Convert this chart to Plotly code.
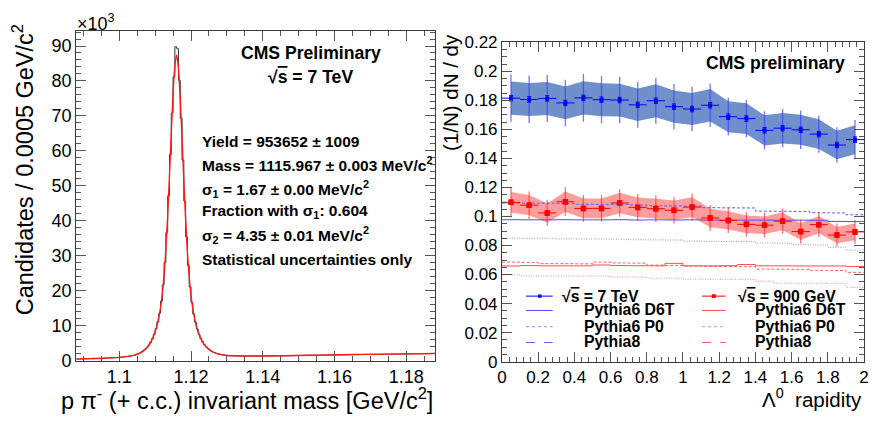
import plotly.graph_objects as go

W, H = 874, 427

# ---------------- Left panel data (counts in units of 10^3 per 0.0005 GeV/c^2 bin) ----------------
mass_lo = 1.088
mass_bin_w = 0.0005
hist_k = [
    0.47, 0.49, 0.50, 0.51, 0.52, 0.54, 0.55, 0.56, 0.57, 0.59,
    0.60, 0.62, 0.64, 0.65, 0.67, 0.69, 0.71, 0.73, 0.75, 0.78,
    0.80, 0.84, 0.87, 0.90, 0.94, 0.99, 1.05, 1.10, 1.17, 1.26,
    1.36, 1.46, 1.59, 1.76, 1.96, 2.18, 2.47, 2.84, 3.26, 3.77,
    4.42, 5.24, 6.26, 7.53, 9.11, 11.06, 13.57, 16.98, 21.68, 28.09,
    36.60, 47.11, 58.91, 70.82, 81.2, 89.8, 89.3, 80.2, 69.36, 57.37,
    45.67, 35.38, 27.29, 21.10, 16.60, 13.31, 10.97, 9.06, 7.54, 6.31,
    5.33, 4.55, 3.94, 3.46, 3.04, 2.71, 2.45, 2.23, 2.06, 1.91,
    1.79, 1.70, 1.62, 1.55, 1.50, 1.45, 1.42, 1.39, 1.37, 1.36,
    1.34, 1.33, 1.32, 1.32, 1.32, 1.31, 1.31, 1.31, 1.31, 1.32,
    1.32, 1.32, 1.33, 1.33, 1.34, 1.34, 1.35, 1.35, 1.36, 1.36,
    1.37, 1.38, 1.38, 1.39, 1.40, 1.40, 1.41, 1.41, 1.42, 1.43,
    1.43, 1.44, 1.45, 1.46, 1.47, 1.48, 1.49, 1.50, 1.51, 1.52,
    1.53, 1.54, 1.55, 1.56, 1.57, 1.58, 1.59, 1.60, 1.61, 1.62,
    1.63, 1.64, 1.65, 1.66, 1.66, 1.67, 1.67, 1.68, 1.69, 1.69,
    1.70, 1.71, 1.72, 1.72, 1.73, 1.74, 1.75, 1.75, 1.76, 1.77,
    1.78, 1.78, 1.79, 1.80, 1.80, 1.81, 1.82, 1.82, 1.83, 1.83,
    1.84, 1.84, 1.85, 1.86, 1.86, 1.87, 1.87, 1.88, 1.89, 1.89,
    1.90, 1.90, 1.91, 1.92, 1.92, 1.93, 1.94, 1.95, 1.96, 1.96,
    1.97, 1.98, 1.99, 2.00, 2.00, 2.01, 2.02, 2.03, 2.04, 2.05,
]
fit_mass = [1.088, 1.09197, 1.09597, 1.09997, 1.10197, 1.10397, 1.10497, 1.10597, 1.10697, 1.10797,
            1.10897, 1.10947, 1.10997, 1.11047, 1.11097, 1.11147, 1.11197, 1.11247, 1.11297, 1.11347,
            1.11397, 1.11447, 1.11497, 1.11547, 1.11597, 1.11647, 1.11697, 1.11747, 1.11797, 1.11847,
            1.11897, 1.11947, 1.11997, 1.12047, 1.12097, 1.12147, 1.12197, 1.12247, 1.12297, 1.12397,
            1.12497, 1.12597, 1.12697, 1.12797, 1.12997, 1.13197, 1.13597, 1.13997, 1.14597, 1.15597,
            1.16597, 1.17597, 1.188]
fit_k = [0.47, 0.57, 0.70, 0.92, 1.13, 1.51, 1.83, 2.29, 3.01, 4.02,
         5.64, 6.74, 8.15, 9.86, 12.07, 14.87, 18.78, 24.19, 31.50, 40.90,
         52.11, 64.22, 75.53, 83.93, 87.34, 83.95, 75.56, 64.26, 52.17, 40.98,
         31.59, 24.29, 18.90, 15.00, 12.21, 10.01, 8.31, 6.92, 5.82, 4.22,
         3.23, 2.54, 2.09, 1.80, 1.46, 1.38, 1.31, 1.33, 1.41, 1.58,
         1.74, 1.87, 2.05]
left_xticks = [1.10, 1.12, 1.14, 1.16, 1.18]
left_xticklabels = ["1.1", "1.12", "1.14", "1.16", "1.18"]
left_yticks = [0, 10, 20, 30, 40, 50, 60, 70, 80, 90]
left_yticklabels = ["0", "10", "20", "30", "40", "50", "60", "70", "80", "90"]

# ---------------- Right panel data ----------------
rap = [0.05, 0.15, 0.25, 0.35, 0.45, 0.55, 0.65, 0.75, 0.85, 0.95,
       1.05, 1.15, 1.25, 1.35, 1.45, 1.55, 1.65, 1.75, 1.85, 1.95]
rap_halfw = [0.05] * 20
rap_edges = [0.0, 0.1, 0.2, 0.3, 0.4, 0.5, 0.6, 0.7, 0.8, 0.9, 1.0,
             1.1, 1.2, 1.3, 1.4, 1.5, 1.6, 1.7, 1.8, 1.9, 2.0]

y7 = [0.1816, 0.1807, 0.1814, 0.1783, 0.1818, 0.1805, 0.1803, 0.1770, 0.1798, 0.1757,
      0.1741, 0.1767, 0.1688, 0.1675, 0.1594, 0.1609, 0.1598, 0.1568, 0.1493, 0.1530]
stat7 = [0.0019, 0.0019, 0.0019, 0.0019, 0.0019, 0.0019, 0.0019, 0.0019, 0.0019, 0.0019,
         0.0019, 0.0019, 0.0019, 0.0019, 0.0019, 0.0019, 0.0019, 0.0019, 0.0019, 0.0019]
tot7 = [0.0163, 0.0163, 0.0163, 0.0160, 0.0165, 0.0163, 0.0160, 0.0158, 0.0158, 0.0157,
        0.0154, 0.0150, 0.0130, 0.0128, 0.0132, 0.0132, 0.0132, 0.0128, 0.0122, 0.0135]
sys7 = [0.0114, 0.0114, 0.0114, 0.0113, 0.0115, 0.0113, 0.0113, 0.0112, 0.0113, 0.0111,
        0.0110, 0.0112, 0.0107, 0.0106, 0.0104, 0.0105, 0.0104, 0.0102, 0.0098, 0.0100]

y900 = [0.1098, 0.1078, 0.1025, 0.1102, 0.1056, 0.1056, 0.1093, 0.1063, 0.1054, 0.1043,
        0.1065, 0.0990, 0.0973, 0.0946, 0.0940, 0.0968, 0.0896, 0.0944, 0.0872, 0.0894]
stat900 = [0.0016, 0.0016, 0.0016, 0.0016, 0.0016, 0.0016, 0.0016, 0.0016, 0.0016, 0.0016,
           0.0016, 0.0016, 0.0016, 0.0016, 0.0016, 0.0016, 0.0016, 0.0016, 0.0016, 0.0016]
tot900 = [0.0099, 0.0095, 0.0090, 0.0099, 0.0092, 0.0092, 0.0095, 0.0093, 0.0092, 0.0092,
          0.0093, 0.0088, 0.0087, 0.0085, 0.0084, 0.0087, 0.0082, 0.0085, 0.0080, 0.0082]
sys900 = [0.0071, 0.0070, 0.0066, 0.0071, 0.0068, 0.0068, 0.0070, 0.0068, 0.0068, 0.0067,
          0.0068, 0.0064, 0.0063, 0.0061, 0.0060, 0.0062, 0.0058, 0.0060, 0.0056, 0.0057]

d6t_7 = [0.0978, 0.0977, 0.0977, 0.0978, 0.0977, 0.0977, 0.0978, 0.0976, 0.0977, 0.0976,
         0.0977, 0.0976, 0.0975, 0.0975, 0.0975, 0.0974, 0.0975, 0.0974, 0.0966, 0.0965]
p0_7 = [0.0851, 0.0850, 0.0850, 0.0846, 0.0845, 0.0845, 0.0844, 0.0840, 0.0839, 0.0838,
        0.0830, 0.0829, 0.0828, 0.0827, 0.0818, 0.0816, 0.0806, 0.0804, 0.0788, 0.0768]
p8_7 = [0.1093, 0.1093, 0.1092, 0.1090, 0.1085, 0.1084, 0.1084, 0.1080, 0.1074, 0.1073,
        0.1072, 0.1061, 0.1060, 0.1059, 0.1037, 0.1036, 0.1035, 0.1026, 0.1025, 0.1012]
d6t_900 = [0.0659, 0.0662, 0.0660, 0.0660, 0.0660, 0.0666, 0.0662, 0.0661, 0.0660, 0.0677,
           0.0660, 0.0660, 0.0661, 0.0669, 0.0660, 0.0660, 0.0659, 0.0659, 0.0659, 0.0656]
p0_900 = [0.0598, 0.0591, 0.0590, 0.0590, 0.0589, 0.0589, 0.0582, 0.0582, 0.0575, 0.0575,
          0.0568, 0.0567, 0.0567, 0.0566, 0.0554, 0.0541, 0.0540, 0.0540, 0.0539, 0.0512]
p8_900 = [0.0686, 0.0684, 0.0675, 0.0675, 0.0674, 0.0686, 0.0680, 0.0679, 0.0665, 0.0663,
          0.0658, 0.0656, 0.0655, 0.0654, 0.0638, 0.0637, 0.0636, 0.0629, 0.0628, 0.0615]

right_xticks = [0, 0.2, 0.4, 0.6, 0.8, 1.0, 1.2, 1.4, 1.6, 1.8, 2.0]
right_xticklabels = ["0", "0.2", "0.4", "0.6", "0.8", "1", "1.2", "1.4", "1.6", "1.8", "2"]
right_yticks = [0, 0.02, 0.04, 0.06, 0.08, 0.10, 0.12, 0.14, 0.16, 0.18, 0.20, 0.22]
right_yticklabels = ["0", "0.02", "0.04", "0.06", "0.08", "0.1", "0.12", "0.14", "0.16",
                     "0.18", "0.2", "0.22"]

# ---------------- helpers ----------------
def px(x):
    return x / W


def py(y):
    return 1 - y / H


FONT = "Liberation Sans, Arial, Helvetica, sans-serif"
AXCOL = "#3a3a3a"

fig = go.Figure()

# ---- left panel ----
mass_centers = [mass_lo + mass_bin_w * (i + 0.5) for i in range(len(hist_k))]
fig.add_trace(go.Scatter(x=mass_centers, y=hist_k, mode="lines", line=dict(color="#333333", width=1, shape="hvh"),
                         xaxis="x", yaxis="y", showlegend=False, hoverinfo="skip"))
fig.add_trace(go.Scatter(x=fit_mass, y=fit_k, mode="lines", line=dict(color="#ff1a1a", width=1.4, shape="spline"),
                         xaxis="x", yaxis="y", showlegend=False, hoverinfo="skip"))

# ---- right panel ----
def band(yv, ev, color):
    up = [a + b for a, b in zip(yv, ev)]
    lo = [a - b for a, b in zip(yv, ev)]
    fig.add_trace(go.Scatter(x=rap + rap[::-1], y=up + lo[::-1], mode="lines", fill="toself",
                             fillcolor=color, line=dict(width=0), xaxis="x2", yaxis="y2",
                             showlegend=False, hoverinfo="skip"))


band(y7, sys7, "rgba(112,144,204,1)")
band(y900, sys900, "rgba(255,140,140,0.85)")


def mcline(vals, color, dash):
    fig.add_trace(go.Scatter(x=rap_edges, y=vals + [vals[-1]], mode="lines",
                             line=dict(color=color, width=1, dash=dash, shape="hv"),
                             xaxis="x2", yaxis="y2", showlegend=False, hoverinfo="skip"))


mcline(d6t_7, "#4d4dff", "solid")
mcline(p0_7, "#8f8fff", "1px,1.5px")
mcline(p8_7, "#5c5cff", "3px,2px")
mcline(d6t_900, "#ff4d4d", "solid")
mcline(p0_900, "#ff8c8c", "1px,1.5px")
mcline(p8_900, "#ff5c5c", "3px,2px")


def points(yv, stat, tot, col, lightcol, size):
    fig.add_trace(go.Scatter(x=rap, y=yv, mode="markers", marker=dict(size=1, color="rgba(0,0,0,0)"),
                             error_y=dict(type="data", array=tot, color=lightcol, thickness=1.3, width=0),
                             xaxis="x2", yaxis="y2", showlegend=False, hoverinfo="skip"))
    fig.add_trace(go.Scatter(x=rap, y=yv, mode="markers",
                             marker=dict(symbol="square", size=size, color=col, line=dict(width=0)),
                             error_y=dict(type="data", array=stat, color=col, thickness=1, width=2),
                             error_x=dict(type="data", array=rap_halfw, color=col, thickness=1, width=0),
                             xaxis="x2", yaxis="y2", showlegend=False, hoverinfo="skip"))


points(y7, stat7, tot7, "#0000ff", "rgba(60,60,255,0.7)", 4)
points(y900, stat900, tot900, "#ff0000", "rgba(255,40,40,0.65)", 5.5)

# ---- axes ----
def axis_common(**kw):
    d = dict(showline=True, linecolor=AXCOL, linewidth=1, mirror="ticks", ticks="inside",
             tickcolor="#555555", tickwidth=1, showgrid=False, zeroline=False,
             tickfont=dict(family=FONT, color="black"))
    d.update(kw)
    return d


fig.update_layout(
    xaxis=axis_common(domain=[px(72), px(435)], range=[1.088, 1.188], anchor="y",
                      tickmode="array", tickvals=left_xticks, ticktext=left_xticklabels, ticklen=10,
                      minor=dict(ticks="inside", dtick=0.005, tick0=1.1, ticklen=5, tickcolor="#555555", showgrid=False),
                      tickfont=dict(family=FONT, size=18, color="black")),
    yaxis=axis_common(domain=[py(368), py(23)], range=[0, 94.3], anchor="x",
                      tickmode="array", tickvals=left_yticks, ticktext=left_yticklabels, ticklen=10,
                      minor=dict(ticks="inside", dtick=2, tick0=0, ticklen=5, tickcolor="#555555", showgrid=False),
                      tickfont=dict(family=FONT, size=18, color="black")),
    xaxis2=axis_common(domain=[px(502.7), px(869)], range=[0, 2], anchor="y2",
                       tickmode="array", tickvals=right_xticks, ticktext=right_xticklabels, ticklen=10,
                       minor=dict(ticks="inside", dtick=0.04, tick0=0, ticklen=5, tickcolor="#555555", showgrid=False),
                       tickfont=dict(family=FONT, size=17, color="black")),
    yaxis2=axis_common(domain=[py(369), py(35)], range=[0, 0.22], anchor="x2",
                       tickmode="array", tickvals=right_yticks, ticktext=right_yticklabels, ticklen=10,
                       minor=dict(ticks="inside", dtick=0.005, tick0=0, ticklen=5, tickcolor="#555555", showgrid=False),
                       tickfont=dict(family=FONT, size=17, color="black")),
    width=W, height=H, autosize=False,
    margin=dict(l=0, r=0, t=0, b=0),
    paper_bgcolor="white", plot_bgcolor="white",
    showlegend=False,
)

ann = []


def text(x, y, s, size, xanchor="center", yanchor="middle", angle=0, bold=False):
    ann.append(dict(x=px(x), y=py(y), xref="paper", yref="paper", text=("<b>%s</b>" % s) if bold else s,
                    showarrow=False, xanchor=xanchor, yanchor=yanchor, textangle=angle,
                    font=dict(family=FONT, size=size, color="black")))


# axis titles
text(18, 168, "Candidates / 0.0005 GeV/c<sup>2</sup>", 23.5, angle=-90)
text(435, 408, "p π<sup>-</sup> (+ c.c.) invariant mass [GeV/c<sup>2</sup>]", 23.5, xanchor="right")
text(71, 14, "×10<sup>3</sup>", 18, xanchor="left")
text(450, 87, "(1/N) dN / dy", 20.5, angle=-90)
text(869, 407, "Λ<sup>0</sup>  rapidity", 20.5, xanchor="right")

# left annotations
text(310, 46, "CMS Preliminary", 17.6, bold=True)
text(309, 71, "√<span style='text-decoration:overline'>s</span> = 7 TeV", 17.6, bold=True)
text(197, 139, "Yield = 953652 ± 1009", 15.5, xanchor="left", bold=True)
text(197, 162, "Mass = 1115.967 ± 0.003 MeV/c<sup>2</sup>", 15.5, xanchor="left", bold=True)
text(197, 188, "σ<sub>1</sub> = 1.67 ± 0.00 MeV/c<sup>2</sup>", 15.5, xanchor="left", bold=True)
text(197, 212, "Fraction with σ<sub>1</sub>: 0.604", 15.5, xanchor="left", bold=True)
text(197, 237, "σ<sub>2</sub> = 4.35 ± 0.01 MeV/c<sup>2</sup>", 15.5, xanchor="left", bold=True)
text(197, 262, "Statistical uncertainties only", 15.5, xanchor="left", bold=True)

# right annotations
text(779, 57, "CMS preliminary", 17.6, bold=True)

# legend (two columns)
leg_rows = [300.5, 315, 332, 348]
leg_left = [("√<span style='text-decoration:overline'>s</span> = 7 TeV", 561),
            ("Pythia6 D6T", 584), ("Pythia6 P0", 584), ("Pythia8", 584)]
leg_right = [("√<span style='text-decoration:overline'>s</span> = 900 GeV", 739),
             ("Pythia6 D6T", 756.5), ("Pythia6 P0", 756.5), ("Pythia8", 756.5)]
for (s, x0), yy in zip(leg_left, leg_rows):
    text(x0, yy, s, 15.8, xanchor="left", bold=True)
for (s, x0), yy in zip(leg_right, leg_rows):
    text(x0, yy, s, 15.8, xanchor="left", bold=True)

shapes = []
sym_rows = [300.5, 315.5, 332.5, 349]
cols = [(527, 554, 541, "#0000ff", ["#4d4dff", "#8f8fff", "#5c5cff"], 3.5),
        (705, 729, 717, "#ff0000", ["#ff4d4d", "#ff8c8c", "#ff5c5c"], 4)]
dashes = ["solid", "dot", "dash"]
for x0, x1, xm, mc, lcs, hs in cols:
    shapes.append(dict(type="line", xref="paper", yref="paper", x0=px(x0), x1=px(x1),
                       y0=py(sym_rows[0]), y1=py(sym_rows[0]), line=dict(color=mc, width=1)))
    shapes.append(dict(type="rect", xref="paper", yref="paper", x0=px(xm - hs / 2), x1=px(xm + hs / 2),
                       y0=py(sym_rows[0] + hs / 2), y1=py(sym_rows[0] - hs / 2), fillcolor=mc, line=dict(width=0)))
    for yy, lc, dsh in zip(sym_rows[1:], lcs, dashes):
        shapes.append(dict(type="line", xref="paper", yref="paper", x0=px(x0), x1=px(x1),
                           y0=py(yy), y1=py(yy), line=dict(color=lc, width=1, dash=dsh)))

fig.update_layout(annotations=ann, shapes=shapes)

fig.write_html("out.html")
